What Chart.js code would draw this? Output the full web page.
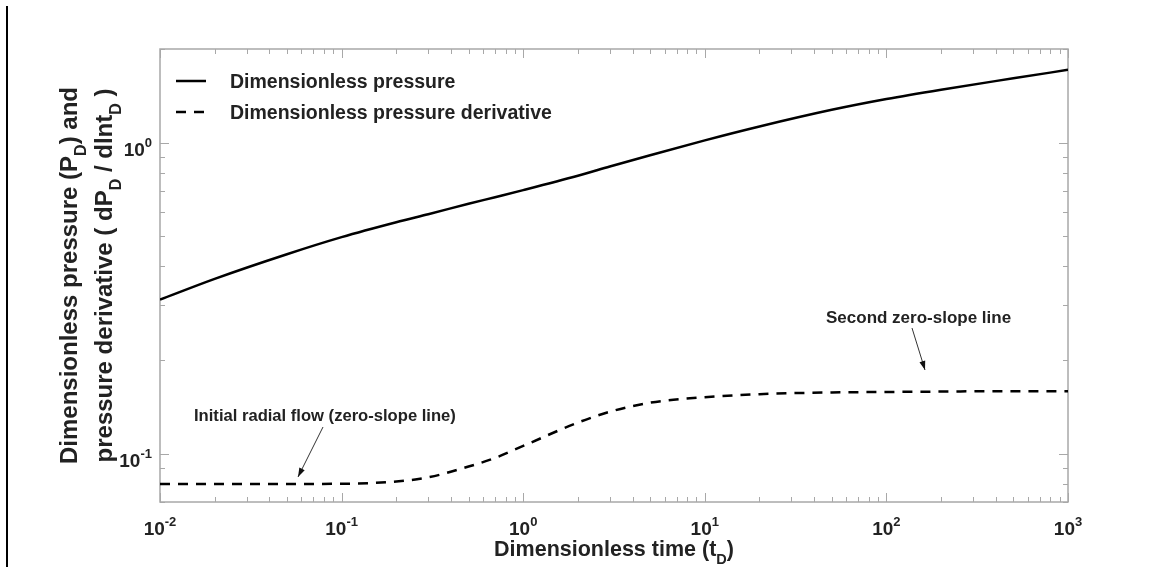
<!DOCTYPE html>
<html>
<head>
<meta charset="utf-8">
<script src="https://cdn.jsdelivr.net/npm/chart.js@4.4.0/dist/chart.umd.min.js"></script>
<style>
  html, body { margin: 0; padding: 0; background: #fff; }
  #wrap { width: 1169px; height: 567px; position: relative; }
</style>
</head>
<body>
<div id="wrap"><canvas id="chart"></canvas></div>
<script>
// data (log-log)
const timeD = [0.01, 0.02, 0.05, 0.1, 0.2, 0.3, 0.5, 0.7, 1, 2, 3, 5, 10, 20, 50, 100, 200, 500, 1000];
const pressureD = [0.313, 0.365, 0.438, 0.497, 0.555, 0.589, 0.636, 0.668, 0.704, 0.783, 0.838, 0.911, 1.017, 1.127, 1.275, 1.381, 1.48, 1.61, 1.714];
const derivD = [0.08, 0.08, 0.08, 0.0801, 0.0815, 0.084, 0.091, 0.097, 0.106, 0.126, 0.1365, 0.146, 0.152, 0.1555, 0.1575, 0.158, 0.1585, 0.159, 0.159];
const seriesNames = ["Dimensionless pressure", "Dimensionless pressure derivative"];
const xTickValues = [0.01, 0.1, 1, 10, 100, 1000];
const yTickValues = [0.1, 1];

const FONT = "'Liberation Sans', Arial, sans-serif";
const TEXT = "#222";

function toPoints(xs, ys) {
  return xs.map((x, i) => ({ x: x, y: ys[i] }));
}

// draw text made of parts [text, size, dy]
function richText(ctx, parts, x, y, align) {
  let w = 0;
  parts.forEach((p) => {
    ctx.font = "bold " + p[1] + "px " + FONT;
    w += ctx.measureText(p[0]).width;
  });
  let cx = align === "center" ? x - w / 2 : align === "right" ? x - w : x;
  ctx.textAlign = "left";
  ctx.textBaseline = "alphabetic";
  parts.forEach((p) => {
    ctx.font = "bold " + p[1] + "px " + FONT;
    ctx.fillText(p[0], cx, y + p[2]);
    cx += ctx.measureText(p[0]).width;
  });
}

function expLabel(v) {
  const e = Math.round(Math.log10(v));
  return [["10", 19, 0], [String(e), 13, -9]];
}

function arrow(ctx, x1, y1, x2, y2) {
  ctx.strokeStyle = "#333";
  ctx.fillStyle = "#111";
  ctx.lineWidth = 1;
  ctx.beginPath();
  ctx.moveTo(x1, y1);
  ctx.lineTo(x2, y2);
  ctx.stroke();
  const ang = Math.atan2(y2 - y1, x2 - x1);
  const L = 9, W = 3;
  ctx.beginPath();
  ctx.moveTo(x2, y2);
  ctx.lineTo(x2 - L * Math.cos(ang) + W * Math.sin(ang), y2 - L * Math.sin(ang) - W * Math.cos(ang));
  ctx.lineTo(x2 - L * Math.cos(ang) - W * Math.sin(ang), y2 - L * Math.sin(ang) + W * Math.cos(ang));
  ctx.closePath();
  ctx.fill();
}

function minorValues(min, max) {
  const out = [];
  for (let e = Math.floor(Math.log10(min)); e <= Math.ceil(Math.log10(max)); e++) {
    for (let k = 1; k <= 9; k++) {
      const v = k * Math.pow(10, e);
      if (v >= min * 0.999 && v <= max * 1.001) out.push({ v: v, major: k === 1 });
    }
  }
  return out;
}

const frame = {
  id: "frame",
  beforeDatasetsDraw(chart) {
    const ctx = chart.ctx, a = chart.chartArea;
    const xs = chart.scales.x, ys = chart.scales.y;
    ctx.save();
    ctx.strokeStyle = "#a8a8a8";
    ctx.lineWidth = 1.5;
    ctx.strokeRect(a.left, a.top, a.right - a.left, a.bottom - a.top);
    ctx.lineWidth = 1;
    ctx.beginPath();
    minorValues(xs.min, xs.max).forEach((t) => {
      const px = Math.round(xs.getPixelForValue(t.v)) + 0.5;
      const len = t.major ? 9 : 5;
      ctx.moveTo(px, a.bottom); ctx.lineTo(px, a.bottom - len);
      ctx.moveTo(px, a.top); ctx.lineTo(px, a.top + len);
    });
    minorValues(ys.min, ys.max).forEach((t) => {
      const py = Math.round(ys.getPixelForValue(t.v)) + 0.5;
      const len = t.major ? 9 : 5;
      ctx.moveTo(a.left, py); ctx.lineTo(a.left + len, py);
      ctx.moveTo(a.right, py); ctx.lineTo(a.right - len, py);
    });
    ctx.stroke();
    ctx.restore();
  },
  afterDraw(chart) {
    const ctx = chart.ctx, a = chart.chartArea;
    const xs = chart.scales.x, ys = chart.scales.y;
    const ds = chart.data.datasets;
    ctx.save();
    ctx.fillStyle = TEXT;

    // tick labels from the scales
    xs.ticks.forEach((t) => {
      richText(ctx, expLabel(t.value), xs.getPixelForValue(t.value), a.bottom + 33, "center");
    });
    ys.ticks.forEach((t) => {
      richText(ctx, expLabel(t.value), a.left - 8, ys.getPixelForValue(t.value) + 13, "right");
    });

    // x title
    richText(ctx, [["Dimensionless time (t", 21.5, 0], ["D", 14.5, 8], [")", 21.5, 0]],
      (a.left + a.right) / 2, 556, "center");

    // y title, two lines
    const cy = (a.top + a.bottom) / 2;
    ctx.save();
    ctx.translate(77, cy);
    ctx.rotate(-Math.PI / 2);
    richText(ctx, [["Dimensionless pressure (P", 24, 0], ["D", 16, 9], [") and", 24, 0]], 0, 0, "center");
    ctx.restore();
    ctx.save();
    ctx.translate(112, cy);
    ctx.rotate(-Math.PI / 2);
    richText(ctx, [["pressure derivative ( dP", 24, 0], ["D", 16, 9], [" / dlnt", 24, 0], ["D", 16, 9], [" )", 24, 0]], 0, 0, "center");
    ctx.restore();

    // legend inside the axes
    const rows = [81, 112];
    ds.forEach((d, i) => {
      ctx.strokeStyle = d.borderColor;
      ctx.lineWidth = d.borderWidth;
      ctx.setLineDash(d.borderDash || []);
      ctx.beginPath();
      ctx.moveTo(176, rows[i]);
      ctx.lineTo(206, rows[i]);
      ctx.stroke();
      ctx.setLineDash([]);
      ctx.fillStyle = TEXT;
      richText(ctx, [[d.label, 19.5, 0]], 230, rows[i] + 7, "left");
    });

    // annotations
    ctx.fillStyle = TEXT;
    richText(ctx, [["Initial radial flow (zero-slope line)", 16.6, 0]], 194, 421, "left");
    richText(ctx, [["Second zero-slope line", 17, 0]], 826, 323, "left");
    arrow(ctx, 323, 427, 298, 477);
    arrow(ctx, 912, 328, 925, 370);

    // page edge line on the left
    ctx.strokeStyle = "#000";
    ctx.lineWidth = 2;
    ctx.beginPath();
    ctx.moveTo(7, 6);
    ctx.lineTo(7, 567);
    ctx.stroke();
    ctx.restore();
  }
};

new Chart(document.getElementById("chart"), {
  type: "line",
  data: {
    datasets: [
      {
        label: seriesNames[0],
        data: toPoints(timeD, pressureD),
        borderColor: "#000",
        borderWidth: 2.5,
        pointRadius: 0,
        cubicInterpolationMode: "monotone",
      },
      {
        label: seriesNames[1],
        data: toPoints(timeD, derivD),
        borderColor: "#000",
        borderWidth: 2.5,
        borderDash: [10, 8],
        pointRadius: 0,
        cubicInterpolationMode: "monotone",
      },
    ],
  },
  options: {
    responsive: true,
    maintainAspectRatio: false,
    animation: false,
    layout: { padding: { top: 49, right: 101, left: 0, bottom: 0 } },
    plugins: {
      legend: { display: false },
      tooltip: { enabled: false },
    },
    scales: {
      x: {
        type: "logarithmic",
        min: 0.01,
        max: 1000,
        grid: { display: false },
        border: { display: false },
        ticks: { display: false },
        afterBuildTicks: (s) => { s.ticks = xTickValues.map((v) => ({ value: v })); },
        afterFit: (s) => { s.height = 65; },
      },
      y: {
        type: "logarithmic",
        min: 0.07,
        max: 2,
        grid: { display: false },
        border: { display: false },
        ticks: { display: false },
        afterBuildTicks: (s) => { s.ticks = yTickValues.map((v) => ({ value: v })); },
        afterFit: (s) => { s.width = 160; },
      },
    },
  },
  plugins: [frame],
});
</script>
</body>
</html>
